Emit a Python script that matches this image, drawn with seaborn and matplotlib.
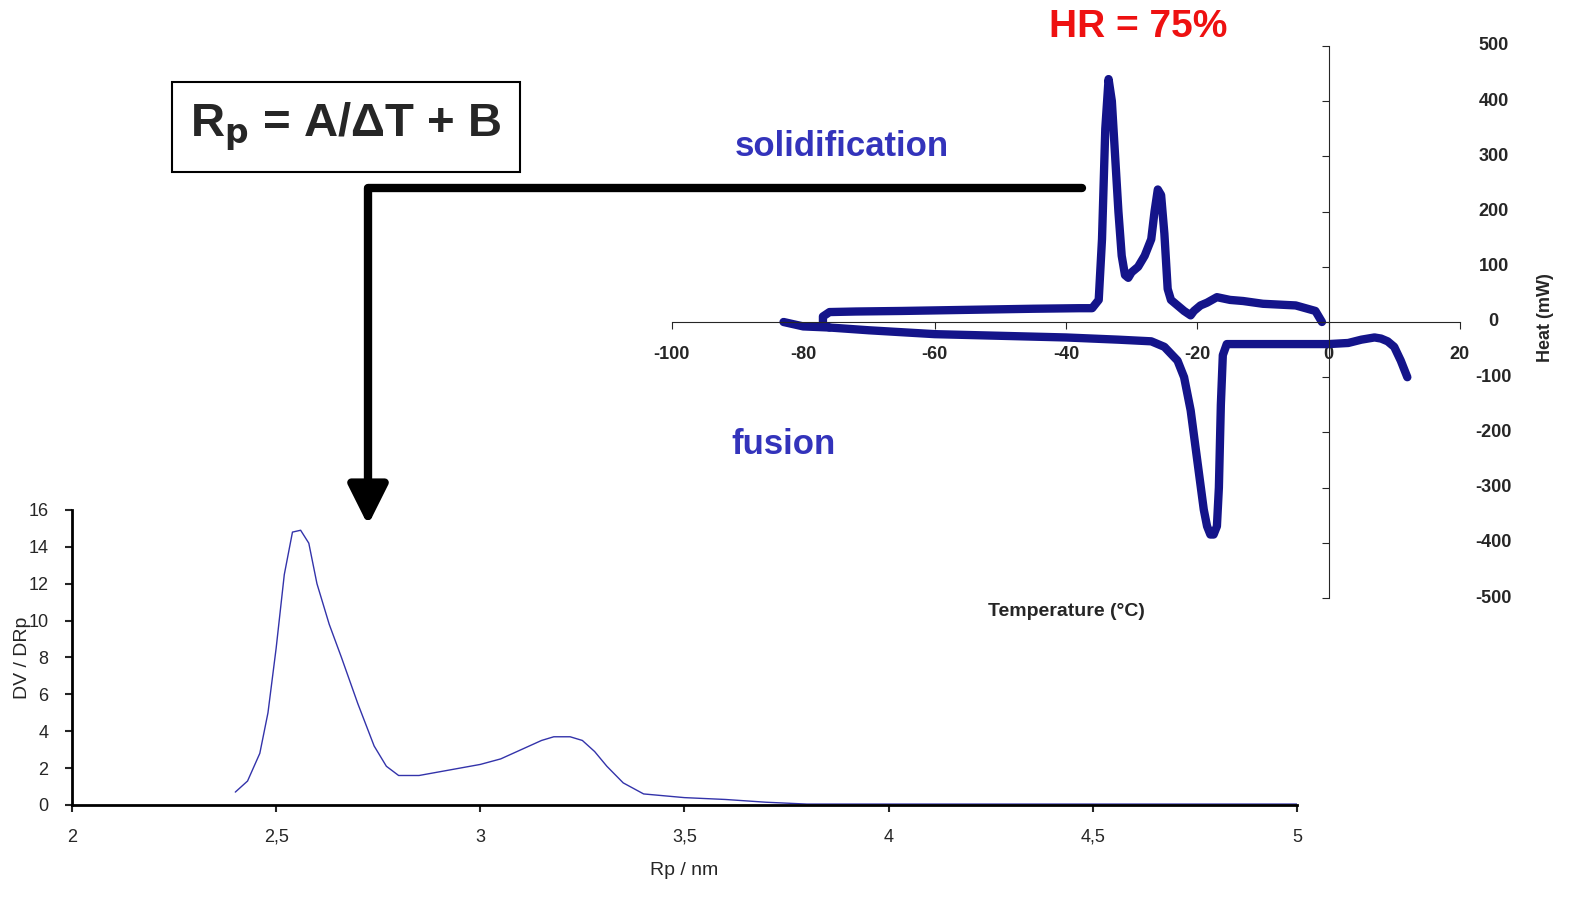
import matplotlib
matplotlib.use("Agg")
import matplotlib.pyplot as plt
import seaborn as sns
from matplotlib.lines import Line2D
from matplotlib.patches import FancyArrowPatch

sns.set_style("white")
plt.rcParams['font.family'] = ['Liberation Sans', 'DejaVu Sans']

# PSD curve
rp = [2.4,2.43,2.46,2.48,2.5,2.52,2.54,2.56,2.58,2.6,2.63,2.66,2.7,2.74,2.77,2.8,2.85,2.9,3.0,3.05,3.1,3.15,3.18,3.22,3.25,3.28,3.31,3.35,3.4,3.5,3.6,3.7,3.8,4.0,5.0]
dv = [0.7,1.3,2.8,5,8.5,12.5,14.8,14.9,14.2,12,9.8,8,5.5,3.2,2.1,1.6,1.6,1.8,2.2,2.5,3.0,3.5,3.7,3.7,3.5,2.9,2.1,1.2,0.6,0.4,0.3,0.15,0.05,0.05,0.05]
# DSC curve (cooling then heating, continuous loop)
dsc_t = [-1,-2,-5,-10,-13,-15,-17,-18.5,-19.5,-20.5,-21,-22,-23,-24,-24.5,-25,-25.5,-26,-26.5,-27,-28,-29,-30,-30.5,-31,-31.5,-32,-32.5,-33,-33.5,-34,-34.5,-35,-36,-38,-45,-55,-65,-72,-76,-77,-77,-76,-70,-60,-50,-40,-32,-27,-25,-23,-22,-21,-20,-19,-18.5,-18,-17.5,-17,-16.7,-16.4,-16.1,-15.5,-14,-10,-5,0,3,5,7,8,9,10,11,12]
dsc_h = [0,20,30,33,38,40,45,35,30,20,12,20,30,40,60,160,230,240,200,150,120,100,90,80,85,120,200,300,400,440,350,150,40,25,25,24,22,20,19,18,10,-5,-10,-15,-22,-25,-28,-32,-35,-45,-70,-100,-160,-250,-340,-370,-385,-385,-370,-300,-150,-60,-40,-40,-40,-40,-40,-38,-32,-28,-30,-35,-45,-70,-100]
dsc_t2 = [-83,-80,-76]
dsc_h2 = [0,-8,-10]

xt_bot = [2,2.5,3,3.5,4,4.5,5]
xt_bot_lbl = ["2","2,5","3","3,5","4","4,5","5"]
yt_bot = [0,2,4,6,8,10,12,14,16]
xt_top = [-100,-80,-60,-40,-20,0,20]
yt_top = [-500,-400,-300,-200,-100,0,100,200,300,400,500]

fig = plt.figure(figsize=(15.96,9.05), dpi=100)

ax = fig.add_axes([0.0451,0.1105,0.7675,0.326])
sns.lineplot(x=rp, y=dv, ax=ax, color='#3333aa', lw=1, sort=False, estimator=None)
ax.set_xlim(2,5); ax.set_ylim(0,16)
ax.set_xticks(xt_bot); ax.set_xticklabels(xt_bot_lbl, fontsize=13)
ax.set_yticks(yt_bot); ax.set_yticklabels([str(v) for v in yt_bot], fontsize=13)
for s in ['top','right']: ax.spines[s].set_visible(False)
for s in ['left','bottom']: ax.spines[s].set_linewidth(2); ax.spines[s].set_color('black')
ax.tick_params(length=5, width=1.5, direction='out', left=True, bottom=True, pad=12)
ax.set_xlabel("Rp / nm", fontsize=14, labelpad=12)
ax.set_ylabel("DV / DRp", fontsize=14, labelpad=-2)
ax.patch.set_alpha(0)

ax2 = fig.add_axes([0.421,0.3392,0.4937,0.61])
ax2.patch.set_alpha(0)
sns.lineplot(x=dsc_t, y=dsc_h, ax=ax2, color='#14148a', lw=6, sort=False, estimator=None)
sns.lineplot(x=dsc_t2, y=dsc_h2, ax=ax2, color='#14148a', lw=6, sort=False, estimator=None)
ax2.set_xlim(-100,20); ax2.set_ylim(-500,500)
for s in ['top','right']: ax2.spines[s].set_visible(False)
ax2.spines['left'].set_position(('data',0))
ax2.spines['bottom'].set_position(('data',0))
ax2.set_xticks(xt_top); ax2.set_xticklabels([str(v) for v in xt_top], fontsize=13, fontweight='bold')
ax2.set_yticks(yt_top); ax2.set_yticklabels([])
ax2.tick_params(axis='x', length=5, direction='out', bottom=True, pad=12)
ax2.tick_params(axis='y', length=5, direction='out', left=True)
for v in yt_top:
    ax2.text(1.043, v, str(v), transform=ax2.get_yaxis_transform(), ha='center', va='center', fontsize=13, fontweight='bold')
ax2.set_xlabel(""); ax2.set_ylabel("")

fig.text(1066/1596, 1-612/905, "Temperature (°C)", ha='center', va='center', fontsize=14, fontweight='bold')
fig.text(1545/1596, 1-318/905, "Heat (mW)", ha='center', va='center', rotation=90, fontsize=13, fontweight='bold')
fig.text(1138/1596, 1-27/905, "HR = 75%", ha='center', va='center', fontsize=28, fontweight='bold', color='#ee1111')
fig.text(842/1596, 1-147/905, "solidification", ha='center', va='center', fontsize=25, fontweight='bold', color='#3333bb')
fig.text(784/1596, 1-444/905, "fusion", ha='center', va='center', fontsize=25, fontweight='bold', color='#3333bb')
fig.text(346/1596, 1-127/905, r"R$_\mathbf{p}$ = A/ΔT + B", ha='center', va='center', fontsize=34, fontweight='bold',
         bbox=dict(boxstyle='square,pad=0.4', fc='white', ec='black', lw=1.5))
fig.add_artist(Line2D([1082/1596, 368/1596], [1-188/905, 1-188/905], transform=fig.transFigure, color='black', lw=6))
fig.add_artist(FancyArrowPatch((368/1596, 1-186/905), (368/1596, 1-528/905), transform=fig.transFigure,
                               arrowstyle='-|>,head_length=1.2,head_width=0.6', mutation_scale=20, color='black', lw=6))
fig.savefig("out.png", dpi=100)
